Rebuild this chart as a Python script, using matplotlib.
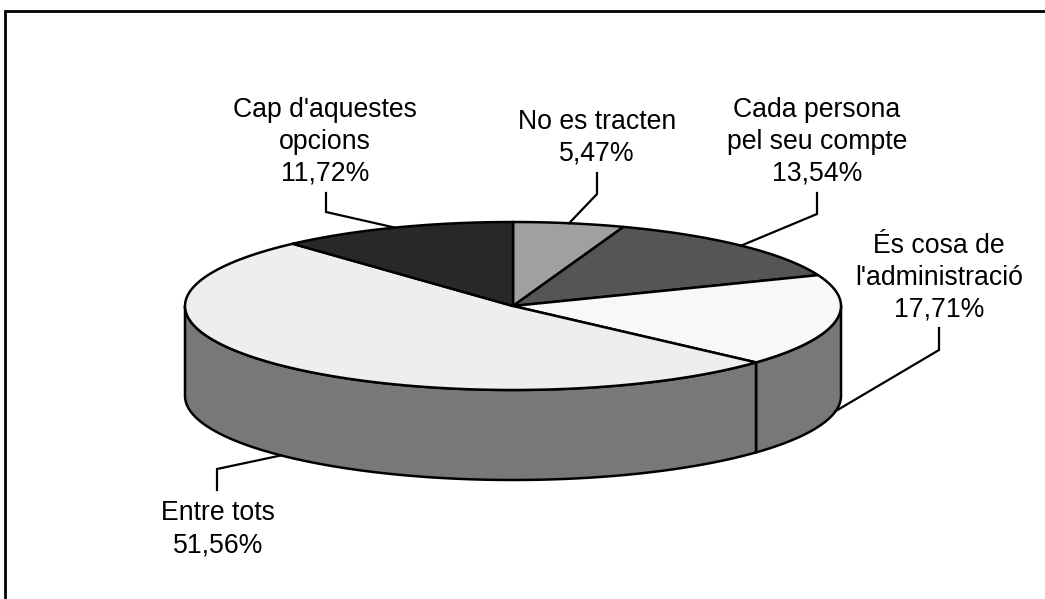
import numpy as np
import matplotlib
matplotlib.use('Agg')
import matplotlib.pyplot as plt
from matplotlib.patches import Polygon

# ---- data (clockwise from 12 o'clock) ----
categories = ["No es tracten", "Cada persona\npel seu compte", "És cosa de\nl'administració",
              "Entre tots", "Cap d'aquestes\nopcions"]
values = [5.47, 13.54, 17.71, 51.56, 11.72]
top_colors = ["#a0a0a0", "#555555", "#f8f8f8", "#eeeeee", "#282828"]
side_color = "#787878"

plt.rcParams['font.family'] = ['Liberation Sans', 'DejaVu Sans']

W, H = 1045, 599
fig = plt.figure(figsize=(W / 100, H / 100), dpi=100)
ax = fig.add_axes([0, 0, 1, 1])
ax.set_xlim(0, W)
ax.set_ylim(H, 0)
ax.axis('off')

# pie geometry (pixels)
cx, cy, rx, ry, depth = 513, 306, 328, 84, 90


def pt(theta_deg, dy=0.0):
    t = np.radians(theta_deg)
    return cx + rx * np.sin(t), cy - ry * np.cos(t) + dy


fracs = np.array(values) / sum(values)
edges = np.concatenate([[0], np.cumsum(fracs)]) * 360

lw = 1.8
# side walls (front half only)
for i in range(len(values)):
    a = max(edges[i], 90)
    b = min(edges[i + 1], 270)
    if a < b:
        th = np.linspace(a, b, 80)
        top = [pt(t) for t in th]
        bot = [pt(t, depth) for t in th[::-1]]
        ax.add_patch(Polygon(top + bot, closed=True, facecolor=side_color,
                             edgecolor='black', lw=lw, joinstyle='round', zorder=1))

# top faces
for i in range(len(values)):
    th = np.linspace(edges[i], edges[i + 1], 120)
    poly = [(cx, cy)] + [pt(t) for t in th]
    ax.add_patch(Polygon(poly, closed=True, facecolor=top_colors[i],
                         edgecolor='black', lw=lw, joinstyle='round', zorder=2))

# labels and leader lines (layout)
label_pos = [(597, 161), (817, 181), (939, 317), (218, 552), (325, 181)]
elbows = [((597, 173), (597, 194)), ((817, 193), (817, 214)), ((939, 328), (939, 350)),
          ((217, 490), (217, 469)), ((326, 193), (326, 212))]
line_gap = 32

for i, cat in enumerate(categories):
    mid = (edges[i] + edges[i + 1]) / 2
    dy = depth if np.cos(np.radians(mid)) < 0 else 0
    ax_, ay_ = pt(mid, dy)
    (x0, y0), (x1, y1) = elbows[i]
    ax.plot([x0, x1, ax_], [y0, y1, ay_], color='black', lw=1.6, zorder=3,
            solid_joinstyle='miter')
    pct = f"{values[i]:.2f}".replace('.', ',') + '%'
    lines = cat.split('\n') + [pct]
    x, base = label_pos[i]
    for k, line in enumerate(reversed(lines)):
        ax.text(x, base - line_gap * k, line, ha='center', va='baseline',
                fontsize=19.2, color='black', zorder=4)

# chart frame (cut off at right and bottom)
ax.plot([5, 5, W + 10], [H + 10, 11, 11], color='black', lw=2.0, clip_on=False,
        solid_joinstyle='miter')

fig.savefig('out.png', dpi=100)
